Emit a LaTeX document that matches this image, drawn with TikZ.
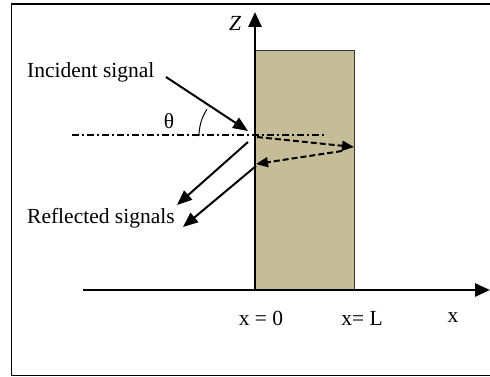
\documentclass[tikz,border=0pt]{standalone}
\usepackage{fontspec}
\setmainfont{Liberation Serif}
\usetikzlibrary{arrows.meta}
\definecolor{slab}{RGB}{196,189,151}
\tikzset{
  lbl/.style={font=\fontsize{21.5}{24}\selectfont, inner sep=0pt},
  axis/.style={line width=2.6pt, -{Triangle[length=15pt,width=13pt]}},
  sig/.style={line width=2pt, -{Triangle[length=15pt,width=12pt]}},
  dsig/.style={line width=2pt, dashed, dash pattern=on 6pt off 3pt, -{Triangle[length=12pt,width=10pt]}},
  dashdot/.style={line width=1.3pt, dash pattern=on 7pt off 3pt on 2pt off 3pt}
}
\begin{document}
\begin{tikzpicture}[x=1pt,y=-1pt]
\useasboundingbox (0,0) rectangle (490,377);
\draw[line width=1.6pt] (11.5,4) rectangle (500,375.5);
% slab
\fill[slab] (255,50) rectangle (354,290);
\draw[line width=0.9pt, black!80] (255,50) -- (354,50) -- (354,290);
% dash-dot line
\coordinate (dl) at (72,135);
\coordinate (dr) at (325,135);
\draw[dashdot] (dl) -- (dr);
% axes
\coordinate (o) at (255,290);
\coordinate (ztop) at (255,12);
\coordinate (xl) at (83,290);
\coordinate (xr) at (490,290);
\draw[axis] (o) -- (ztop);
\draw[axis] (xl) -- (xr);
\node[lbl, font=\fontsize{21.5}{24}\selectfont\itshape] (zlab) at (235,23) {Z};
\node[lbl] (x0) at (261,318) {x = 0};
\node[lbl] (xL) at (362,318) {x= L};
\node[lbl] (xx) at (453,318) {x};
% incident
\node[lbl, anchor=west] (inc) at (27,72) {Incident signal};
\coordinate (is) at (166,77);
\coordinate (ie) at (248,131);
\draw[sig] (is) -- (ie);
% angle
\draw[line width=1pt] (199,136) arc[start angle=180, end angle=213, radius=49];
\node[lbl] (th) at (169,121) {θ};
% reflected
\node[lbl, anchor=west] (refl) at (27,218) {Reflected signals};
\coordinate (r1s) at (248,142);
\coordinate (r1e) at (177,205);
\coordinate (r2s) at (256,166);
\coordinate (r2e) at (183,227);
\draw[sig] (r1s) -- (r1e);
\draw[sig] (r2s) -- (r2e);
% inside
\coordinate (d1s) at (257,137);
\coordinate (d1e) at (354,147);
\coordinate (d2s) at (342,151);
\coordinate (d2e) at (256,164);
\draw[dsig] (d1s) -- (d1e);
\draw[dsig] (d2s) -- (d2e);
\end{tikzpicture}
\end{document}
